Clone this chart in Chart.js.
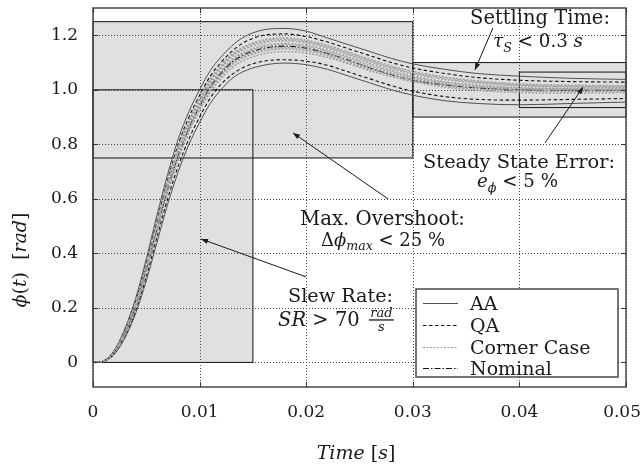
<!DOCTYPE html>
<html><head><meta charset="utf-8">
<script src="https://cdn.jsdelivr.net/npm/chart.js@4"></script>
<style>html,body{margin:0;padding:0;background:#fff;overflow:hidden}#wrap{width:642px;height:466px}</style>
</head><body><div id="wrap"><canvas id="c" width="642" height="466"></canvas></div>
<script>
// ---------- data ----------
const T = [0,0.001,0.002,0.003,0.004,0.005,0.006,0.007,0.008,0.009,0.010,0.011,0.012,0.013,0.014,
           0.016,0.018,0.020,0.022,0.024,0.026,0.028,0.030,0.033,0.036,0.040,0.045,0.050];
const AA_UPPER = [0,0.006,0.045,0.125,0.235,0.38,0.54,0.69,0.82,0.92,1.0,1.07,1.12,1.16,1.19,
                  1.22,1.225,1.215,1.19,1.165,1.14,1.115,1.095,1.075,1.06,1.05,1.042,1.038];
const AA_LOWER = [0,0.003,0.03,0.09,0.18,0.30,0.44,0.58,0.70,0.80,0.88,0.95,1.0,1.04,1.065,
                  1.09,1.098,1.092,1.075,1.05,1.025,1.0,0.98,0.96,0.95,0.945,0.95,0.955];
const QA_UPPER = [0,0.005,0.042,0.118,0.225,0.365,0.52,0.67,0.80,0.90,0.98,1.05,1.10,1.14,1.17,
                  1.20,1.205,1.195,1.175,1.15,1.125,1.10,1.08,1.06,1.045,1.035,1.03,1.028];
const QA_LOWER = [0,0.004,0.033,0.097,0.19,0.315,0.46,0.60,0.72,0.82,0.90,0.97,1.02,1.055,1.08,
                  1.105,1.11,1.105,1.09,1.065,1.04,1.015,0.995,0.975,0.965,0.962,0.965,0.968];
const NOMINAL  = [0,0.0045,0.037,0.107,0.207,0.34,0.49,0.635,0.76,0.86,0.94,1.01,1.06,1.10,1.125,
                  1.152,1.16,1.152,1.133,1.108,1.08,1.055,1.035,1.018,1.007,1.0,0.998,0.998];
const CORNER_1 = [0,0.005,0.04,0.113,0.217,0.352,0.505,0.655,0.78,0.88,0.96,1.03,1.08,1.12,1.145,
                  1.172,1.18,1.172,1.153,1.128,1.102,1.078,1.058,1.038,1.025,1.015,1.01,1.008];
const CORNER_2 = [0,0.004,0.035,0.102,0.20,0.33,0.475,0.62,0.745,0.845,0.925,0.99,1.04,1.08,1.105,
                  1.132,1.14,1.135,1.118,1.095,1.07,1.048,1.03,1.01,0.998,0.99,0.988,0.99];
const CORNER_3 = [0,0.005,0.038,0.11,0.212,0.346,0.497,0.645,0.77,0.87,0.95,1.02,1.07,1.11,1.135,
                  1.162,1.17,1.163,1.145,1.12,1.095,1.07,1.05,1.03,1.017,1.008,1.004,1.003];
const CORNER_4 = [0,0.005,0.041,0.116,0.222,0.36,0.513,0.663,0.79,0.89,0.97,1.04,1.09,1.13,1.155,
                  1.183,1.19,1.182,1.163,1.138,1.112,1.088,1.068,1.047,1.033,1.022,1.017,1.015];
const CORNER_5 = [0,0.0045,0.036,0.105,0.204,0.336,0.483,0.628,0.753,0.853,0.933,1.0,1.05,1.09,1.115,
                  1.142,1.15,1.143,1.125,1.10,1.076,1.054,1.035,1.015,1.003,0.996,0.994,0.995];
const CORNER_6 = [0,0.0042,0.035,0.104,0.202,0.334,0.482,0.627,0.752,0.853,0.934,1.003,1.053,1.093,1.12,
                  1.148,1.155,1.149,1.131,1.106,1.081,1.058,1.04,1.021,1.009,1.001,0.998,0.998];
const CORNER_7 = [0,0.0048,0.038,0.109,0.21,0.343,0.494,0.64,0.765,0.865,0.945,1.015,1.065,1.105,1.13,
                  1.157,1.165,1.158,1.139,1.114,1.088,1.064,1.045,1.025,1.013,1.005,1.002,1.001];
const CORNER_8 = [0,0.005,0.04,0.115,0.22,0.356,0.51,0.66,0.785,0.885,0.965,1.035,1.085,1.125,1.15,
                  1.178,1.185,1.177,1.158,1.133,1.107,1.083,1.063,1.043,1.029,1.018,1.013,1.012];
const CORNER_CASES = [CORNER_1, CORNER_2, CORNER_3, CORNER_4, CORNER_5, CORNER_6, CORNER_7, CORNER_8];

const X_TICKS = [0,0.01,0.02,0.03,0.04,0.05];
const X_TICK_LABELS = ['0','0.01','0.02','0.03','0.04','0.05'];
const Y_TICKS = [0,0.2,0.4,0.6,0.8,1.0,1.2];
const Y_TICK_LABELS = ['0','0.2','0.4','0.6','0.8','1.0','1.2'];

// requirement boxes (slew rate, overshoot, settling, steady state)
const BOX_T0 = [0, 0, 0.03, 0.04];
const BOX_T1 = [0.015, 0.03, 0.05, 0.05];
const BOX_V0 = [0, 0.75, 0.9, 0.935];
const BOX_V1 = [1.0, 1.25, 1.1, 1.065];

// ---------- styling ----------
const SERIF = "'DejaVu Serif', serif";
const BOX_FILL = '#e2dfdf';
const INK = '#1a1a1a';

function pts(arr){ return T.map((t,i)=>({x:t,y:arr[i]})); }
const common = {pointRadius:0, fill:false, cubicInterpolationMode:'monotone', borderJoinStyle:'round'};
const STYLE_AA = {borderColor:'#505050', borderWidth:1, borderDash:[]};
const STYLE_QA = {borderColor:'#111111', borderWidth:1.1, borderDash:[3.5,2.5]};
const STYLE_CC = {borderColor:'#9c9c9c', borderWidth:1.4, borderDash:[2,1.5]};
const STYLE_NOM = {borderColor:'#111111', borderWidth:1.1, borderDash:[6,2,1.5,2]};

const datasets = [];
CORNER_CASES.forEach(a=>datasets.push(Object.assign({label:'Corner Case', data:pts(a)}, common, STYLE_CC)));
datasets.push(Object.assign({label:'QA', data:pts(QA_UPPER)}, common, STYLE_QA));
datasets.push(Object.assign({label:'QA', data:pts(QA_LOWER)}, common, STYLE_QA));
datasets.push(Object.assign({label:'AA', data:pts(AA_UPPER)}, common, STYLE_AA));
datasets.push(Object.assign({label:'AA', data:pts(AA_LOWER)}, common, STYLE_AA));
datasets.push(Object.assign({label:'Nominal', data:pts(NOMINAL)}, common, STYLE_NOM));

// ---------- text helpers ----------
function fontOf(p,size){ const s = p.sub ? size*0.7 : size; return (p.i?'italic ':'') + s.toFixed(2) + 'px ' + SERIF; }
function richWidth(c, parts, size){ let w=0; parts.forEach(p=>{ c.font=fontOf(p,size); w+=c.measureText(p.t).width; }); return w; }
function drawRich(c, parts, cx, base, size){
  const w = richWidth(c, parts, size); let xx = cx - w/2;
  c.textBaseline='alphabetic'; c.textAlign='left';
  parts.forEach(p=>{ c.font=fontOf(p,size); const dy = p.sub ? size*0.25 : 0; c.fillText(p.t, xx, base+dy); xx += c.measureText(p.t).width; });
  return {left: cx - w/2, right: cx + w/2, x: xx};
}
function fitSize(c, parts, width){ const w = richWidth(c, parts, 20); return 20*width/w; }
function arrow(c, x0,y0,x1,y1){
  c.beginPath(); c.moveTo(x0,y0); c.lineTo(x1,y1); c.stroke();
  const ang = Math.atan2(y1-y0, x1-x0), L=7, W=2.6;
  c.beginPath(); c.moveTo(x1,y1);
  c.lineTo(x1 - L*Math.cos(ang) + W*Math.sin(ang), y1 - L*Math.sin(ang) - W*Math.cos(ang));
  c.lineTo(x1 - L*Math.cos(ang) - W*Math.sin(ang), y1 - L*Math.sin(ang) + W*Math.cos(ang));
  c.closePath(); c.fill();
}

// annotation arrows in data units: [t, value] start -> end
const ARROWS = [
  [[0.03752,1.227],[0.03583,1.073]],
  [[0.04240,0.805],[0.04597,1.010]],
  [[0.02767,0.600],[0.01876,0.842]],
  [[0.01998,0.314],[0.01013,0.453]]
];

const deco = {
  id:'deco',
  beforeDraw(chart){ const c=chart.ctx; c.save(); c.fillStyle='#fff'; c.fillRect(0,0,chart.width,chart.height); c.restore(); },
  beforeDatasetsDraw(chart){
    const c=chart.ctx, x=chart.scales.x, y=chart.scales.y, a=chart.chartArea;
    c.save();
    c.fillStyle = BOX_FILL;
    for(let i=0;i<BOX_T0.length;i++){
      const x0=x.getPixelForValue(BOX_T0[i]), x1=x.getPixelForValue(BOX_T1[i]);
      const y0=y.getPixelForValue(BOX_V1[i]), y1=y.getPixelForValue(BOX_V0[i]);
      c.fillRect(x0,y0,x1-x0,y1-y0);
    }
    c.strokeStyle='#444'; c.lineWidth=1; c.setLineDash([1,2]);
    X_TICKS.forEach(v=>{ const px=Math.round(x.getPixelForValue(v))+0.5; c.beginPath(); c.moveTo(px,a.top); c.lineTo(px,a.bottom); c.stroke(); });
    Y_TICKS.forEach(v=>{ const py=Math.round(y.getPixelForValue(v))+0.5; c.beginPath(); c.moveTo(a.left,py); c.lineTo(a.right,py); c.stroke(); });
    c.setLineDash([]);
    c.strokeStyle='#222'; c.lineWidth=1.1;
    for(let i=0;i<BOX_T0.length;i++){
      const x0=x.getPixelForValue(BOX_T0[i]), x1=x.getPixelForValue(BOX_T1[i]);
      const y0=y.getPixelForValue(BOX_V1[i]), y1=y.getPixelForValue(BOX_V0[i]);
      c.strokeRect(x0,y0,x1-x0,y1-y0);
    }
    c.restore();
  },
  afterDatasetsDraw(chart){
    const c=chart.ctx, x=chart.scales.x, y=chart.scales.y, a=chart.chartArea;
    c.save();
    c.strokeStyle='#4a4a4a'; c.lineWidth=1.5;
    c.strokeRect(a.left, a.top, a.right-a.left, a.bottom-a.top);
    c.lineWidth=1; c.strokeStyle='#333';
    X_TICKS.forEach(v=>{ const px=Math.round(x.getPixelForValue(v))+0.5;
      c.beginPath(); c.moveTo(px,a.bottom); c.lineTo(px,a.bottom-5); c.moveTo(px,a.top); c.lineTo(px,a.top+5); c.stroke(); });
    Y_TICKS.forEach(v=>{ const py=Math.round(y.getPixelForValue(v))+0.5;
      c.beginPath(); c.moveTo(a.left,py); c.lineTo(a.left+5,py); c.moveTo(a.right,py); c.lineTo(a.right-5,py); c.stroke(); });

    c.fillStyle=INK;
    c.font = '17px ' + SERIF; c.textBaseline='alphabetic'; c.textAlign='left';
    X_TICKS.forEach((v,i)=>{ const w=c.measureText(X_TICK_LABELS[i]).width; let lx=x.getPixelForValue(v)-w/2;
      if(lx+w>chart.width-1) lx=chart.width-1-w; c.fillText(X_TICK_LABELS[i], lx, a.bottom+30); });

    // axis titles
    const xt=[{t:'Time',i:true},{t:' [',i:false},{t:'s',i:true},{t:']',i:false}];
    drawRich(c, xt, 356, 459, 19);
    c.save(); c.translate(26, 260); c.rotate(-Math.PI/2);
    const yt=[{t:'ϕ',i:true},{t:'(',i:false},{t:'t',i:true},{t:')  [',i:false},{t:'rad',i:true},{t:']',i:false}];
    drawRich(c, yt, 0, 0, 19);
    c.restore();

    // annotations
    const L1=[{t:'Settling Time:'}];
    drawRich(c, L1, 540, 23.5, fitSize(c,L1,140));
    const L2=[{t:'τ',i:true},{t:'S',i:true,sub:true},{t:' < 0.3 '},{t:'s',i:true}];
    drawRich(c, L2, 538, 47, fitSize(c,L2,90));
    const L3=[{t:'Steady State Error:'}];
    drawRich(c, L3, 519, 168, fitSize(c,L3,192));
    const L4=[{t:'e',i:true},{t:'ϕ',i:true,sub:true},{t:' < 5 %'}];
    drawRich(c, L4, 517.5, 187, fitSize(c,L4,81));
    const L5=[{t:'Max. Overshoot:'}];
    drawRich(c, L5, 382.5, 225, fitSize(c,L5,165));
    const L6=[{t:'Δ'},{t:'ϕ',i:true},{t:'max',i:true,sub:true},{t:' < 25 %'}];
    drawRich(c, L6, 383, 246, fitSize(c,L6,124));
    const L7=[{t:'Slew Rate:'}];
    drawRich(c, L7, 340.5, 302, fitSize(c,L7,105));
    const L8=[{t:'SR',i:true},{t:' > 70 '}];
    const r8 = drawRich(c, L8, 322, 325.5, 19.5);
    const fx0 = r8.x + 3, fw = 25;
    c.font = 'italic 13px ' + SERIF; c.textAlign='center'; c.textBaseline='alphabetic';
    c.fillText('rad', fx0 + fw/2, 316.5);
    c.fillText('s', fx0 + fw/2, 331);
    c.fillRect(fx0, 319.3, fw, 1.3);

    c.strokeStyle=INK; c.fillStyle=INK; c.lineWidth=1;
    ARROWS.forEach(([p0,p1])=>arrow(c, x.getPixelForValue(p0[0]), y.getPixelForValue(p0[1]), x.getPixelForValue(p1[0]), y.getPixelForValue(p1[1])));

    // legend
    const LX0=416, LY0=289, LX1=618, LY1=377;
    c.fillStyle='#fff'; c.fillRect(LX0,LY0,LX1-LX0,LY1-LY0);
    c.strokeStyle='#4a4a4a'; c.lineWidth=1.5; c.strokeRect(LX0,LY0,LX1-LX0,LY1-LY0);
    const items=[['AA',STYLE_AA],['QA',STYLE_QA],['Corner Case',STYLE_CC],['Nominal',STYLE_NOM]];
    const rows=[303,325,347,368];
    items.forEach(([lab,st],k)=>{
      c.strokeStyle=st.borderColor; c.lineWidth=Math.min(st.borderWidth,1.1); c.setLineDash(st.borderDash);
      c.beginPath(); c.moveTo(423,rows[k]+0.5); c.lineTo(458,rows[k]+0.5); c.stroke();
      c.setLineDash([]);
      c.fillStyle=INK; c.font='19px '+SERIF; c.textAlign='left'; c.textBaseline='alphabetic';
      c.fillText(lab, 470, rows[k]+7);
    });
    c.restore();
  }
};

new Chart(document.getElementById('c'), {
  type:'line',
  data:{datasets},
  plugins:[deco],
  options:{
    responsive:false, animation:false, devicePixelRatio:1,
    layout:{padding:{top:8,right:16,left:0,bottom:0}},
    plugins:{legend:{display:false}, tooltip:{enabled:false}},
    scales:{
      x:{type:'linear', min:0, max:0.05,
         afterBuildTicks:s=>{ s.ticks = X_TICKS.map(v=>({value:v})); },
         afterFit:s=>{ s.height=79; s.paddingLeft=0; s.paddingRight=0; },
         grid:{display:false}, border:{display:false},
         ticks:{display:false}},
      y:{type:'linear', min:-0.09, max:1.3,
         afterBuildTicks:s=>{ s.ticks = Y_TICKS.map(v=>({value:v})); },
         afterFit:s=>{ s.width=93; s.paddingTop=0; s.paddingBottom=0; },
         grid:{display:false, drawTicks:false}, border:{display:false},
         ticks:{padding:15, color:INK, font:{family:"'DejaVu Serif', serif", size:17},
                callback:(v,i)=>Y_TICK_LABELS[i]}}
    }
  }
});
</script>
</body></html>
